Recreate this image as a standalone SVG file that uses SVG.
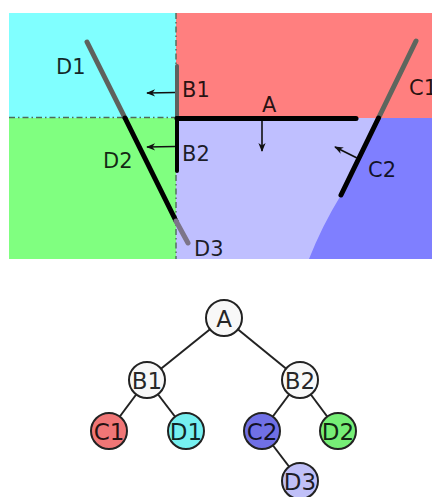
<svg xmlns="http://www.w3.org/2000/svg" width="432" height="497" viewBox="0 0 432 497">
  <style>
    .lbl { font-family: "DejaVu Sans", "Liberation Sans", sans-serif; font-size: 21px; fill: #000; fill-opacity: 0.85; }
    .tlbl { font-family: "DejaVu Sans", "Liberation Sans", sans-serif; font-size: 23px; fill: #000; fill-opacity: 0.85; text-anchor: middle; }
    .node circle { stroke: #222; stroke-width: 2; }
    .edge { stroke: #222; stroke-width: 2; fill: none; }
    .seg { fill: none; stroke-linecap: round; }
    .nrm { stroke: #111; stroke-width: 1.6; fill: none; marker-end: url(#head); }
    .guide { stroke: #4d6b5a; stroke-width: 1.4; fill: none; stroke-dasharray: 6 3 1.5 3; }
  </style>
  <defs>
    <marker id="head" viewBox="0 0 10 10" refX="9" refY="5" markerWidth="10" markerHeight="9" orient="auto" markerUnits="userSpaceOnUse">
      <path d="M0,1 L10,5 L0,9 L3,5 Z" fill="#111"/>
    </marker>
  </defs>

  <!-- space partition -->
  <g id="regions">
    <rect x="9" y="13" width="167" height="105" fill="#80ffff"/>
    <rect x="176" y="13" width="256" height="105" fill="#ff7f7f"/>
    <rect x="9" y="118" width="167" height="141" fill="#80ff80"/>
    <rect x="176" y="118" width="256" height="141" fill="#bfbfff"/>
    <path d="M378.5,118 L432,118 L432,259 L309,259 Q322,226 341,195 Z" fill="#7f7fff"/>
    <path class="guide" d="M9,117.5 H176"/>
    <path class="guide" d="M176,13 V259" stroke-width="1"/>
  </g>

  <!-- splitting segments -->
  <g id="segments">
    <line class="seg" x1="87" y1="42" x2="125" y2="118" stroke="#5e625e" stroke-width="5"/>
    <line class="seg" x1="125" y1="118" x2="176" y2="221" stroke="#000" stroke-width="5"/>
    <line class="seg" x1="176" y1="221" x2="188" y2="243" stroke="#7c7488" stroke-width="5"/>
    <line class="seg" x1="177" y1="66" x2="177" y2="118" stroke="#5e625e" stroke-width="4"/>
    <line class="seg" x1="177" y1="118" x2="177" y2="171" stroke="#000" stroke-width="4"/>
    <line class="seg" x1="177" y1="118.5" x2="356" y2="118.5" stroke="#000" stroke-width="5" stroke-linecap="butt"/>
    <line class="seg" x1="416" y1="41" x2="378.5" y2="118" stroke="#5e665e" stroke-width="5"/>
    <line class="seg" x1="378.5" y1="118" x2="341" y2="195" stroke="#000" stroke-width="5"/>
  </g>

  <!-- normals -->
  <g id="normals">
    <path class="nrm" d="M175,92.5 L147,93"/>
    <path class="nrm" d="M175,146.5 L147,147"/>
    <path class="nrm" d="M262,121 L262,151"/>
    <path class="nrm" d="M357,158 L335,147"/>
  </g>

  <!-- segment labels -->
  <g id="seg-labels">
    <text class="lbl" x="56" y="74">D1</text>
    <text class="lbl" x="182" y="97">B1</text>
    <text class="lbl" x="262" y="112">A</text>
    <text class="lbl" x="409" y="95">C1</text>
    <text class="lbl" x="103" y="168">D2</text>
    <text class="lbl" x="182" y="161">B2</text>
    <text class="lbl" x="368" y="177">C2</text>
    <text class="lbl" x="194" y="256">D3</text>
  </g>

  <!-- tree connectors -->
  <g id="connectors">
    <line class="edge" x1="224" y1="318" x2="147" y2="380"/>
    <line class="edge" x1="224" y1="318" x2="300" y2="380"/>
    <line class="edge" x1="147" y1="380" x2="109" y2="431"/>
    <line class="edge" x1="147" y1="380" x2="186" y2="431"/>
    <line class="edge" x1="300" y1="380" x2="262" y2="431"/>
    <line class="edge" x1="300" y1="380" x2="338" y2="431"/>
    <line class="edge" x1="262" y1="431" x2="300" y2="481"/>
  </g>

  <!-- tree nodes -->
  <g id="node-A" class="node"><circle cx="224" cy="318" r="18" fill="#f8f8f8"/><text class="tlbl" x="224" y="326.5">A</text></g>
  <g id="node-B1" class="node"><circle cx="147" cy="380" r="18" fill="#f8f8f8"/><text class="tlbl" x="147" y="388.5">B1</text></g>
  <g id="node-B2" class="node"><circle cx="300" cy="380" r="18" fill="#f8f8f8"/><text class="tlbl" x="300" y="388.5">B2</text></g>
  <g id="node-C1" class="node"><circle cx="109" cy="431" r="18" fill="#f07676"/><text class="tlbl" x="109" y="439.5">C1</text></g>
  <g id="node-D1" class="node"><circle cx="186" cy="431" r="18" fill="#76f0f0"/><text class="tlbl" x="186" y="439.5">D1</text></g>
  <g id="node-C2" class="node"><circle cx="262" cy="431" r="18" fill="#7070e6"/><text class="tlbl" x="262" y="439.5">C2</text></g>
  <g id="node-D2" class="node"><circle cx="338" cy="431" r="18" fill="#76ee76"/><text class="tlbl" x="338" y="439.5">D2</text></g>
  <g id="node-D3" class="node"><circle cx="300" cy="481" r="18" fill="#c0c0f8"/><text class="tlbl" x="300" y="489.5">D3</text></g>
</svg>
